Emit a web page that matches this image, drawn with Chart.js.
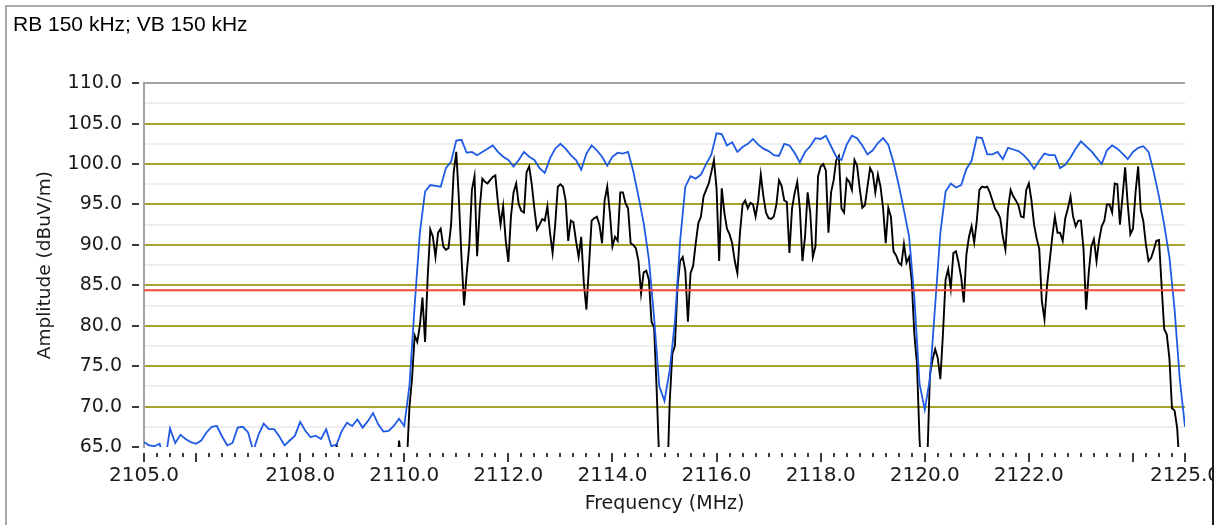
<!DOCTYPE html>
<html>
<head>
<meta charset="utf-8">
<script src="https://cdn.jsdelivr.net/npm/chart.js@4.4.0/dist/chart.umd.min.js"></script>
<style>
  html, body { margin: 0; padding: 0; background: #ffffff; }
  #wrap { position: absolute; left: 0; top: 0; width: 1225px; height: 525px; }
  #chart { position: absolute; left: 0; top: 0; z-index: 1; }
  #frameL { position: absolute; left: 5px; top: 5px; width: 0; height: 520px; border-left: 2px solid #a9a9a9; z-index: 2; }
  #frameT { position: absolute; left: 5px; top: 5px; width: 1208px; height: 0; border-top: 2px solid #a9a9a9; z-index: 2; }
  #frameR { position: absolute; left: 1212px; top: 5px; width: 13px; height: 520px; background: #ffffff; border-left: 2px solid #1c1c1c; box-sizing: border-box; z-index: 3; }
</style>
</head>
<body>
<div id="wrap">
  <canvas id="chart" width="1225" height="525"></canvas>
  <div id="frameL"></div>
  <div id="frameT"></div>
  <div id="frameR"></div>
</div>
<script>
// ---------------- DATA ----------------
const TITLE = 'RB 150 kHz; VB 150 kHz';
const X_TITLE = 'Frequency (MHz)';
const Y_TITLE = 'Amplitude (dBuV/m)';

const X_MIN = 2105, X_MAX = 2125;
const X_LABEL_TICKS = [2105, 2108, 2110, 2112, 2114, 2116, 2118, 2120, 2122, 2125];
const X_MAJOR_MARKS = [2105, 2106, 2108, 2110, 2112, 2114, 2116, 2118, 2120, 2122, 2124, 2125];
const X_MINOR_STEP = 0.25;

const Y_MIN = 65, Y_MAX = 110;
const Y_LABEL_TICKS = [65, 70, 75, 80, 85, 90, 95, 100, 105, 110];
const Y_MINOR_GRID = [67.5, 72.5, 77.5, 82.5, 87.5, 92.5, 97.5, 102.5, 107.5];

const LIMIT_DB = 84.4;

// Blue trace (max hold), 2105.0 .. 2125.0 MHz, 0.1 MHz per point
const BLUE_START = 2105.0, BLUE_STEP = 0.1;
const BLUE_DB = [
  65.6, 65.2, 65.1, 65.4, 63.0, 67.3, 65.5, 66.5, 66.0, 65.6,
  65.4, 65.8, 66.8, 67.5, 67.6, 66.3, 65.2, 65.5, 67.4, 67.5,
  66.8, 64.5, 66.5, 67.9, 67.2, 67.2, 66.3, 65.2, 65.8, 66.4,
  68.1, 67.0, 66.2, 66.4, 66.0, 67.2, 65.1, 65.3, 67.0, 68.0,
  67.6, 68.4, 67.4, 68.2, 69.2, 67.8, 66.9, 67.0, 67.6, 68.5,
  67.6,
  72.6, 82.5, 91.5, 96.6, 97.4, 97.3, 97.2, 99.5, 100.3, 102.9,
  103.0, 101.4, 101.5, 101.1, 101.5, 101.9, 102.3, 101.5, 100.9, 100.5,
  99.7, 100.5, 101.5, 100.9, 100.5, 99.5, 98.9, 100.7, 101.9, 102.5,
  101.9, 101.1, 100.5, 99.3, 101.3, 102.3, 101.7, 100.9, 99.8, 100.9,
  101.4, 101.3, 101.5, 99.1, 96.0, 92.7, 88.2, 81.0, 72.5, 70.7,
  74.5, 80.5, 90.5, 97.2, 98.5, 98.2, 98.7, 100.0, 101.2, 103.8,
  103.7, 102.3, 102.7, 101.5, 102.1, 102.5, 103.1, 102.4, 101.9, 101.6,
  101.1, 101.0, 102.5, 102.3, 101.4, 100.2, 101.5, 102.2, 103.2, 103.1,
  103.5, 102.2, 100.9, 100.5, 102.4, 103.5, 103.2, 102.3, 101.2, 101.7,
  102.6, 103.2, 102.4, 100.2, 97.4, 94.3, 91.0, 83.5, 72.8, 69.6,
  73.5, 82.5, 91.5, 96.6, 97.6, 97.1, 97.4, 99.4, 100.4, 103.3,
  103.2, 101.2, 101.2, 101.5, 100.6, 102.0, 101.8, 101.6, 101.1, 100.4,
  99.4, 100.4, 101.3, 101.1, 101.1, 99.5, 99.9, 100.8, 101.9, 102.8,
  102.2, 101.6, 100.8, 100.0, 101.7, 102.3, 101.9, 101.3, 100.6, 101.5,
  102.0, 102.2, 101.5, 99.0, 96.0, 92.5, 88.5, 82.0, 73.4, 67.5
];

// Black trace (clear/write), 2108.50 .. 2125.00 MHz, 0.05 MHz per point
const BLACK_START = 2108.5, BLACK_STEP = 0.05;
const BLACK_DB = [
  // 2108.50 - 2110.05
  60, 60, 60, 60, 65.4, 60, 60, 60, 60, 60,
  60, 60, 60, 60, 60, 60, 60, 60, 60, 60,
  60, 60, 60, 60, 60, 60, 60, 60, 65.8, 63,
  62, 63,
  // 2110.10 - 2114.10
  70.0, 73.5, 78.8, 78.0, 80.0, 83.5, 78.0, 86.0, 91.9, 91.0,
  88.5, 91.5, 92.0, 89.8, 89.4, 89.6, 92.5, 99.0, 101.5, 95.6,
  88.4, 82.5, 86.5, 90.0, 96.8, 98.5, 88.6, 94.5, 98.2, 97.8,
  97.6, 98.0, 98.4, 98.6, 95.2, 92.5, 94.8, 90.5, 87.9, 93.5,
  96.5, 97.6, 95.0, 94.2, 94.0, 99.0, 99.7, 97.5, 94.5, 91.9,
  92.5, 93.2, 93.0, 94.8, 91.5, 89.0, 92.5, 97.2, 97.5, 97.2,
  95.5, 90.5, 93.0, 92.8, 90.5, 88.5, 91.0, 85.3, 82.0, 87.5,
  93.0, 93.3, 93.5, 92.5, 90.2, 95.5, 97.2, 94.0, 89.8, 91.0,
  90.5,
  // 2114.15 - 2118.20
  96.5, 96.5, 95.2, 94.5, 90.2, 90.0, 89.6, 88.0, 84.0, 86.6,
  86.8, 85.7, 80.5, 79.8, 72.0, 63.0, 60, 60, 60, 70.6,
  76.5, 77.5, 84.9, 88.0, 88.5, 86.8, 80.5, 86.5, 87.4, 90.2,
  92.7, 93.5, 96.0, 96.8, 97.6, 99.0, 100.5, 97.0, 88.0, 97.0,
  94.0, 92.0, 91.3, 90.2, 88.0, 86.5, 91.5, 95.0, 95.5, 94.5,
  95.2, 95.0, 93.5, 95.5, 98.7, 96.0, 94.0, 93.3, 93.2, 93.5,
  95.0, 98.0, 97.3, 95.5, 95.3, 89.0, 94.5, 96.4, 97.8, 94.5,
  88.0, 91.0, 96.5, 94.0, 88.5, 89.8, 98.5, 99.7, 100.0, 99.2,
  91.5, 96.5,
  // 2118.25 - 2122.25
  98.0, 100.5, 101.0, 94.5, 94.0, 98.2, 97.8, 96.8, 100.5, 99.8,
  97.0, 94.6, 94.9, 97.2, 99.5, 98.9, 96.5, 98.7, 97.2, 94.5,
  90.2, 94.6, 93.5, 89.2, 88.7, 87.8, 87.5, 90.1, 87.8, 88.5,
  85.5, 79.0, 75.3, 66.0, 60, 60, 63.5, 74.0, 75.8, 77.1,
  76.0, 73.4, 79.0, 85.7, 87.0, 84.6, 89.0, 89.2, 87.8, 86.0,
  82.9, 88.8, 91.0, 92.3, 90.3, 93.0, 96.8, 97.2, 97.1, 97.2,
  96.5, 95.5, 94.5, 94.0, 93.3, 91.0, 89.4, 94.5, 96.8, 96.0,
  95.5, 94.9, 93.5, 93.4, 96.8, 97.6, 95.5, 92.5, 90.8, 89.5,
  83.0,
  // 2122.30 - 2125.00
  80.8, 85.0, 88.0, 91.0, 93.5, 91.5, 91.5, 90.5, 93.3, 94.5,
  96.0, 93.5, 92.3, 93.0, 93.0, 89.5, 82.0, 86.5, 89.8, 90.7,
  88.0, 90.6, 92.3, 93.0, 95.0, 95.0, 94.0, 97.6, 97.5, 92.5,
  96.0, 99.6, 95.0, 91.3, 92.0, 96.5, 99.7, 94.3, 92.9, 90.0,
  88.0, 88.4, 89.4, 90.5, 90.6, 85.0, 79.6, 78.9, 76.0, 69.8,
  69.5, 67.3, 62.0, 60, 60
];

// ---------------- STYLE ----------------
const C_BLUE = '#1f5ae4';
const C_BLACK = '#000000';
const C_RED = '#f0483a';
const C_OLIVE = '#a6a42c';
const C_MINOR = '#eeeeee';
const C_AXIS = '#a3a3a3';
const C_TEXT = '#1a1a1a';

const toPoints = (start, step, arr) => arr.map((v, i) => ({ x: +(start + i * step).toFixed(3), y: v }));

const tickMarks = {
  id: 'tickMarks',
  afterDraw(chart) {
    const { ctx, chartArea: a } = chart;
    const xs = chart.scales.x, ys = chart.scales.y;
    ctx.save();
    ctx.strokeStyle = '#3a3a3a';
    ctx.lineWidth = 2;
    const n = Math.round((X_MAX - X_MIN) / X_MINOR_STEP);
    for (let i = 0; i <= n; i++) {
      const v = +(X_MIN + i * X_MINOR_STEP).toFixed(2);
      const px = Math.round(xs.getPixelForValue(v));
      const major = X_MAJOR_MARKS.includes(v);
      ctx.beginPath();
      ctx.moveTo(px, a.bottom + 6);
      ctx.lineTo(px, a.bottom + (major ? 15 : 10));
      ctx.stroke();
    }
    Y_LABEL_TICKS.forEach(v => {
      const py = Math.round(ys.getPixelForValue(v));
      ctx.beginPath();
      ctx.moveTo(a.left - 12, py);
      ctx.lineTo(a.left - 5, py);
      ctx.stroke();
    });
    ctx.restore();
  }
};

new Chart(document.getElementById('chart'), {
  type: 'line',
  data: {
    datasets: [
      {
        label: 'Limit',
        data: [{ x: X_MIN, y: LIMIT_DB }, { x: X_MAX, y: LIMIT_DB }],
        borderColor: C_RED, borderWidth: 2, pointRadius: 0, tension: 0
      },
      {
        label: 'Max hold',
        data: toPoints(BLUE_START, BLUE_STEP, BLUE_DB),
        borderColor: C_BLUE, borderWidth: 1.8, pointRadius: 0, tension: 0
      },
      {
        label: 'Clear write',
        data: toPoints(BLACK_START, BLACK_STEP, BLACK_DB),
        borderColor: C_BLACK, borderWidth: 1.9, pointRadius: 0, tension: 0
      }
    ]
  },
  options: {
    responsive: false,
    animation: false,
    events: [],
    layout: { padding: { left: 13, right: 40, top: 0, bottom: 0 } },
    plugins: {
      legend: { display: false },
      tooltip: { enabled: false },
      title: {
        display: true, text: TITLE, align: 'start', color: '#000000',
        font: { family: '"Liberation Sans", Arial, sans-serif', size: 21, weight: 'normal' },
        padding: { top: 13, bottom: 45 }
      }
    },
    scales: {
      x: {
        type: 'linear', min: X_MIN, max: X_MAX,
        afterBuildTicks: s => { s.ticks = X_LABEL_TICKS.map(v => ({ value: v })); },
        afterFit: s => { s.height = 78; s.paddingLeft = 0; s.paddingRight = 0; },
        ticks: {
          autoSkip: false, maxRotation: 0, padding: 17, color: C_TEXT,
          font: { family: '"DejaVu Sans", sans-serif', size: 20 },
          callback: v => Number(v).toFixed(1)
        },
        grid: { display: false, drawTicks: false },
        border: { display: false },
        title: {
          display: true, text: X_TITLE, color: C_TEXT,
          font: { family: '"DejaVu Sans", sans-serif', size: 19 },
          padding: { top: 0, bottom: 10 }
        }
      },
      y: {
        type: 'linear', min: Y_MIN, max: Y_MAX,
        afterBuildTicks: s => {
          s.ticks = Y_LABEL_TICKS.concat(Y_MINOR_GRID).sort((a, b) => a - b).map(v => ({ value: v }));
        },
        afterFit: s => { s.width = 131; s.paddingTop = 0; s.paddingBottom = 0; },
        ticks: {
          autoSkip: false, padding: 22, color: C_TEXT,
          font: { family: '"DejaVu Sans", sans-serif', size: 19 },
          callback: v => Y_LABEL_TICKS.includes(v) ? Number(v).toFixed(1) : ''
        },
        grid: {
          drawTicks: false,
          color: c => {
            const v = c.tick ? c.tick.value : 0;
            if (v === Y_MAX) return C_AXIS;
            if (v === Y_MIN) return 'rgba(0,0,0,0)';
            return Y_LABEL_TICKS.includes(v) ? C_OLIVE : C_MINOR;
          },
          lineWidth: 2
        },
        border: { display: true, color: C_AXIS, width: 2 },
        title: {
          display: true, text: Y_TITLE, color: C_TEXT,
          font: { family: '"DejaVu Sans", sans-serif', size: 18.5 },
          padding: { top: 21, bottom: 0 }
        }
      }
    }
  },
  plugins: [tickMarks]
});
</script>
</body>
</html>
